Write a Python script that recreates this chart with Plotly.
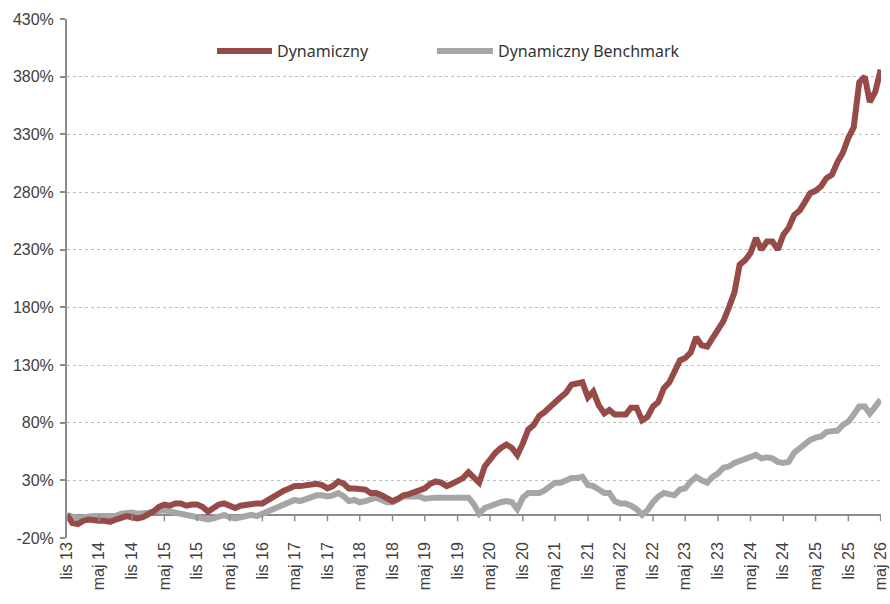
import pandas as pd
import plotly.graph_objects as go

# monthly, lis 2013 .. maj 2026 (cumulative return, %)
months = pd.date_range("2013-11-01", "2026-05-01", freq="MS")

dynamiczny = [
    0, -7, -8, -5, -4, -5, -5, -5, -6, -4,
    -3, -1, -2, -3, -2, 0, 3, 7, 9, 8,
    10, 10, 8, 9, 9, 7, 3, 6, 9, 10,
    8, 6, 8, 9, 10, 10, 10, 13, 16, 19,
    21, 23, 25, 25, 26, 27, 27, 26, 23, 25,
    29, 27, 23, 23, 23, 22, 19, 19, 17, 14,
    12, 14, 17, 18, 20, 21, 23, 27, 29, 28,
    25, 27, 29, 32, 37, 32, 28, 42, 48, 54,
    58, 61, 58, 52, 62, 74, 78, 86, 89, 94,
    98, 102, 106, 113, 114, 115, 102, 107, 95, 88,
    91, 87, 87, 87, 93, 93, 82, 85, 94, 98,
    110, 115, 124, 134, 136, 141, 154, 147, 146, 153,
    160, 168, 180, 193, 217, 221, 227, 240, 230, 237,
    237, 230, 243, 249, 260, 264, 271, 279, 281, 285,
    292, 295, 306, 314, 327, 336, 375, 380, 358, 367,
    386,
]

benchmark = [
    0, -2, -3, -2, -1, -1, -1, -1, -1, -1,
    1, 2, 2, 1, 1, 2, 3, 4, 4, 3,
    2, 1, 0, 0, -1, -3, -4, -3, -1, 0,
    -2, -3, -2, -1, 0, -1, 1, 3, 6, 8,
    10, 11, 13, 12, 14, 16, 17, 17, 16, 17,
    19, 16, 12, 13, 11, 12, 14, 15, 13, 11,
    11, 13, 16, 16, 16, 16, 14, 15, 15, 15,
    15, 16, 16, 16, 15, 9, 1, 6, 8, 10,
    11, 12, 11, 5, 15, 19, 19, 19, 21, 24,
    28, 28, 30, 32, 32, 33, 26, 25, 22, 19,
    19, 12, 10, 10, 8, 5, 0, 4, 11, 16,
    19, 18, 17, 22, 23, 29, 33, 30, 28, 33,
    36, 41, 42, 45, 47, 48, 50, 52, 49, 50,
    49, 46, 45, 46, 54, 58, 61, 65, 67, 68,
    72, 72, 73, 78, 81, 87, 94, 94, 88, 94,
    100,
]

tick_labels = [
    "lis 13", "maj 14", "lis 14", "maj 15", "lis 15", "maj 16", "lis 16",
    "maj 17", "lis 17", "maj 18", "lis 18", "maj 19", "lis 19", "maj 20",
    "lis 20", "maj 21", "lis 21", "maj 22", "lis 22", "maj 23", "lis 23",
    "maj 24", "lis 24", "maj 25", "lis 25", "maj 26",
]
tick_dates = months[::6]
y_ticks = list(range(-20, 431, 50))

red = "#964B48"
grey = "#A6A6A6"
axis_grey = "#8c8c8c"

fig = go.Figure()
fig.add_trace(go.Scatter(x=months, y=benchmark, mode="lines", name="Dynamiczny Benchmark",
                         line=dict(color=grey, width=6)))
fig.add_trace(go.Scatter(x=months, y=dynamiczny, mode="lines", name="Dynamiczny",
                         line=dict(color=red, width=6)))

tick_font = dict(family="Liberation Sans, Arial", size=16, color="#404040")
x_range = [months[0], months[-1] + pd.Timedelta(days=2)]

ml, mr, mt, mb = 67, 9, 19, 66
fig.update_layout(
    width=890, height=604,
    margin=dict(l=ml, r=mr, t=mt, b=mb),
    plot_bgcolor="white", paper_bgcolor="white",
    showlegend=False,
    xaxis=dict(
        range=x_range,
        tickvals=tick_dates, ticktext=tick_labels, tickangle=-90,
        tickfont=tick_font, showgrid=False, showline=False, zeroline=False,
        ticks="", automargin=False, ticklabeloverflow="allow",
    ),
    yaxis=dict(
        range=[-20, 430], tickvals=y_ticks, ticktext=[f"{v}%" for v in y_ticks],
        tickfont=tick_font, showgrid=True, gridcolor="#c0c0c0", griddash="dot",
        gridwidth=1, showline=True, linecolor=axis_grey, linewidth=2,
        ticks="outside", ticklen=5, tickcolor=axis_grey, tickwidth=1.5,
        zeroline=False, automargin=False, ticklabelstandoff=3,
    ),
)

# 0% axis line with small tick marks hanging below it
fig.add_shape(type="line", xref="x", yref="y", x0=months[0], x1=x_range[1], y0=0, y1=0,
              line=dict(color=axis_grey, width=2), layer="below")
for d in tick_dates:
    fig.add_shape(type="line", xref="x", yref="y", x0=d, x1=d, y0=0, y1=-5.5,
                  line=dict(color=axis_grey, width=1.5), layer="above")

# legend drawn by hand (longer line samples than plotly's own legend)
plot_w = 890 - ml - mr
plot_h = 604 - mt - mb
ly = (538 - 51) / plot_h
legend_items = [("Dynamiczny", red, 217, 272), ("Dynamiczny Benchmark", grey, 437, 493)]
for label, col, x0, x1 in legend_items:
    fig.add_shape(type="line", xref="paper", yref="paper",
                  x0=(x0 - ml) / plot_w, x1=(x1 - ml) / plot_w, y0=ly, y1=ly,
                  line=dict(color=col, width=6))
    fig.add_annotation(xref="paper", yref="paper", x=(x1 + 3 - ml) / plot_w, y=ly,
                       text=label, showarrow=False, xanchor="left", yanchor="middle",
                       font=dict(family="Noto Sans", size=16, color="#333333"))

fig.write_html("out.html", config={"displayModeBar": False},
               post_script="document.body.style.margin='0';")
